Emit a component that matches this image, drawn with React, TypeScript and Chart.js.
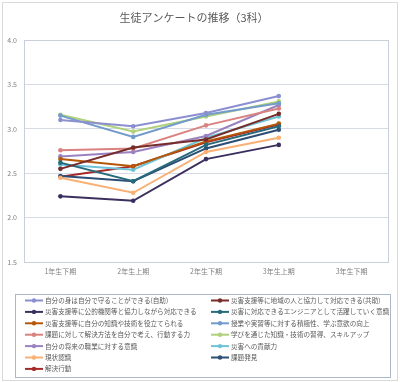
import React, { useEffect, useRef } from "react";
import { Chart, registerables } from "chart.js";

Chart.register(...registerables);

const categories = ["1年生下期", "2年生上期", "2年生下期", "3年生上期", "3年生下期"];
const yTickValues = [1.5, 2.0, 2.5, 3.0, 3.5, 4.0];
const titleText = "生徒アンケートの推移（3科）";

const seriesNames = [
  "自分の身は自分で守ることができる(自助)",
  "災害支援等に地域の人と協力して対応できる(共助)",
  "災害支援等に公的機関等と協力しながら対応できる",
  "災害に対応できるエンジニアとして活躍していく意識",
  "災害支援等に自分の知識や技術を役立てられる",
  "授業や実習等に対する積極性、学ぶ意欲の向上",
  "課題に対して解決方法を自分で考え、行動する力",
  "学びを通じた知識・技術の習得、スキルアップ",
  "自分の将来の職業に対する意識",
  "災害への貢献力",
  "現状認識",
  "課題発見",
  "解決行動",
];

const seriesColors = [
  "#8b8fcf",
  "#772c2a",
  "#3b2f5e",
  "#276a7c",
  "#b65708",
  "#729aca",
  "#d9827f",
  "#afd17c",
  "#9a82c0",
  "#6fc3d8",
  "#f9b074",
  "#2c4d75",
  "#a52a2a",
];

const selfHelp = [3.10, 3.03, 3.18, 3.37, null];
const mutualHelp = [2.55, 2.79, 2.88, 3.17, null];
const publicCoop = [2.24, 2.19, 2.66, 2.82, null];
const engineerAwareness = [2.62, 2.41, 2.82, 3.03, null];
const useKnowledge = [2.66, 2.58, 2.86, 3.06, null];
const classMotivation = [3.15, 2.91, 3.16, 3.29, null];
const problemSolving = [2.76, 2.78, 3.04, 3.23, null];
const skillUp = [3.16, 2.97, 3.14, 3.31, null];
const careerAwareness = [2.69, 2.74, 2.92, 3.27, null];
const contribution = [2.60, 2.54, 2.90, 3.14, null];
const situationAwareness = [2.45, 2.28, 2.74, 2.90, null];
const problemFinding = [2.47, 2.41, 2.78, 2.99, null];
const solutionAction = [2.46, 2.58, 2.85, 3.05, null];

const seriesValues = [
  selfHelp,
  mutualHelp,
  publicCoop,
  engineerAwareness,
  useKnowledge,
  classMotivation,
  problemSolving,
  skillUp,
  careerAwareness,
  contribution,
  situationAwareness,
  problemFinding,
  solutionAction,
];

const FONT = "'Noto Sans CJK JP', 'Noto Sans', sans-serif";

const framePlugin = {
  id: "framePlugin",
  beforeDraw(chart: any) {
    const { ctx, width, height } = chart;
    ctx.save();
    ctx.fillStyle = "#ffffff";
    ctx.fillRect(0, 0, width, height);
    ctx.strokeStyle = "#d9d9d9";
    ctx.lineWidth = 1;
    ctx.strokeRect(2.5, 2.5, width - 5, height - 4);
    ctx.restore();
  },
  beforeDatasetsDraw(chart: any) {
    const { ctx, chartArea } = chart;
    ctx.save();
    ctx.strokeStyle = "#c9d0dc";
    ctx.lineWidth = 1;
    ctx.strokeRect(
      Math.round(chartArea.left) + 0.5,
      Math.round(chartArea.top) + 0.5,
      Math.round(chartArea.right - chartArea.left),
      Math.round(chartArea.bottom - chartArea.top)
    );
    ctx.restore();
  },
};

const legendPlugin = {
  id: "columnLegend",
  afterDraw(chart: any) {
    const { ctx } = chart;
    ctx.save();
    ctx.strokeStyle = "#a9b7c9";
    ctx.lineWidth = 1;
    ctx.strokeRect(15.5, 294.5, 375, 83);
    ctx.font = `6.6px ${FONT}`;
    ctx.textBaseline = "middle";
    ctx.textAlign = "left";
    chart.data.datasets.forEach((ds: any, i: number) => {
      const col = i % 2;
      const row = Math.floor(i / 2);
      const y = 300.5 + row * 11.4;
      const x0 = col === 0 ? 25 : 211;
      const x1 = x0 + 18;
      ctx.strokeStyle = ds.borderColor;
      ctx.lineWidth = 2;
      ctx.beginPath();
      ctx.moveTo(x0, y);
      ctx.lineTo(x1, y);
      ctx.stroke();
      ctx.fillStyle = ds.borderColor;
      ctx.beginPath();
      ctx.arc((x0 + x1) / 2, y, 2.2, 0, Math.PI * 2);
      ctx.fill();
      ctx.fillStyle = "#595959";
      ctx.fillText(ds.label, x1 + 2, y);
    });
    ctx.restore();
  },
};

export default function App() {
  const canvasRef = useRef<HTMLCanvasElement | null>(null);

  useEffect(() => {
    document.body.style.margin = "0";
    const canvas = canvasRef.current;
    if (!canvas) return;
    const chart = new Chart(canvas, {
      type: "line",
      data: {
        labels: categories,
        datasets: seriesNames.map((name, i) => ({
          label: name,
          data: seriesValues[i],
          borderColor: seriesColors[i],
          backgroundColor: seriesColors[i],
          pointBackgroundColor: seriesColors[i],
          pointBorderColor: seriesColors[i],
          borderWidth: 2,
          pointRadius: 2.3,
          pointBorderWidth: 0,
          tension: 0,
          spanGaps: false,
        })),
      },
      options: {
        responsive: false,
        animation: false,
        layout: { padding: { left: 0, right: 12, top: 0, bottom: 100 } },
        plugins: {
          legend: { display: false },
          tooltip: { enabled: false },
          title: {
            display: true,
            text: titleText,
            color: "#595959",
            font: { family: FONT, size: 11, weight: "normal" },
            padding: { top: 11, bottom: 16 },
          },
        },
        scales: {
          x: {
            offset: true,
            grid: { display: false, drawTicks: false },
            border: { display: false },
            ticks: {
              color: "#7f7f7f",
              font: { family: FONT, size: 7 },
              padding: 5,
              maxRotation: 0,
            },
            afterFit: (scale: any) => {
              scale.height = 20;
            },
          },
          y: {
            min: 1.5,
            max: 4.0,
            afterBuildTicks: (scale: any) => {
              scale.ticks = yTickValues.map((v) => ({ value: v }));
            },
            grid: { color: "#d6dbe6", drawTicks: false, lineWidth: 1 },
            border: { display: false },
            ticks: {
              color: "#7f7f7f",
              font: { family: FONT, size: 7 },
              padding: 7,
              callback: (v: any) => Number(v).toFixed(1),
            },
            afterFit: (scale: any) => {
              scale.width = 24;
            },
          },
        },
      },
      plugins: [framePlugin, legendPlugin],
    });
    return () => chart.destroy();
  }, []);

  return (
    <div style={{ width: 400, height: 382 }}>
      <canvas ref={canvasRef} width={400} height={382} style={{ display: "block" }} />
    </div>
  );
}
